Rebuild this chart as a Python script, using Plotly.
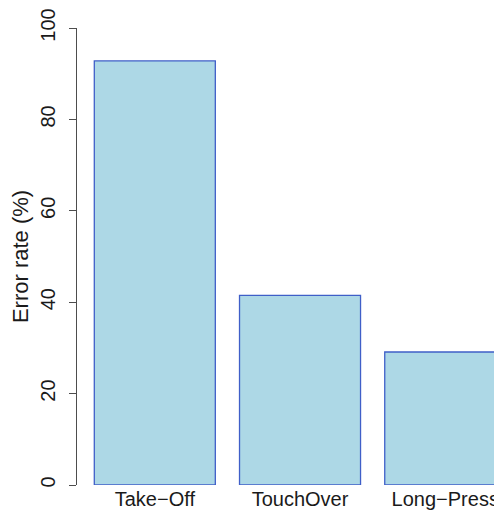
import plotly.graph_objects as go

# data
methods = ["Take\u2212Off", "TouchOver", "Long\u2212Press"]
error_rates = [92.8, 41.5, 29.1]
y_ticks = [0, 20, 40, 60, 80, 100]

# R barplot style positions: width 1, space 0.2
bar_centers = [0.7 + 1.2 * i for i in range(len(methods))]

axis_col = "#4d4d4d"
font = dict(family="Liberation Sans, Arial, Helvetica, sans-serif", size=20, color="#1a1a1a")
title_font = dict(font, size=22)

fig = go.Figure()
fig.add_trace(go.Bar(
    x=bar_centers,
    y=error_rates,
    width=1.0,
    marker=dict(color="#ADD8E6", line=dict(color="#3f5fc8", width=1.3)),
    cliponaxis=False,
    showlegend=False,
    hoverinfo="y",
))

# page has an 8px body margin, so the figure is 8px smaller each way
fig.update_layout(
    width=494,
    height=513,
    margin=dict(l=69, r=0, t=18, b=36),
    paper_bgcolor="white",
    plot_bgcolor="white",
    font=font,
    xaxis=dict(
        range=[0.057, 3.569],
        tickvals=bar_centers,
        ticktext=methods,
        showline=False,
        showgrid=False,
        zeroline=False,
        ticks="",
        tickfont=font,
        ticklabeloverflow="allow",
    ),
    yaxis=dict(
        range=[0, 100],
        tickvals=y_ticks,
        ticks="outside",
        ticklen=7,
        tickwidth=1,
        tickcolor=axis_col,
        showline=True,
        linecolor=axis_col,
        linewidth=1,
        showgrid=False,
        zeroline=False,
        tickangle=-90,
        ticklabelstandoff=6,
        ticklabeloverflow="allow",
        tickfont=font,
        title=dict(text="Error rate (%)", font=title_font, standoff=5),
    ),
)

fig.write_html("out.html")
